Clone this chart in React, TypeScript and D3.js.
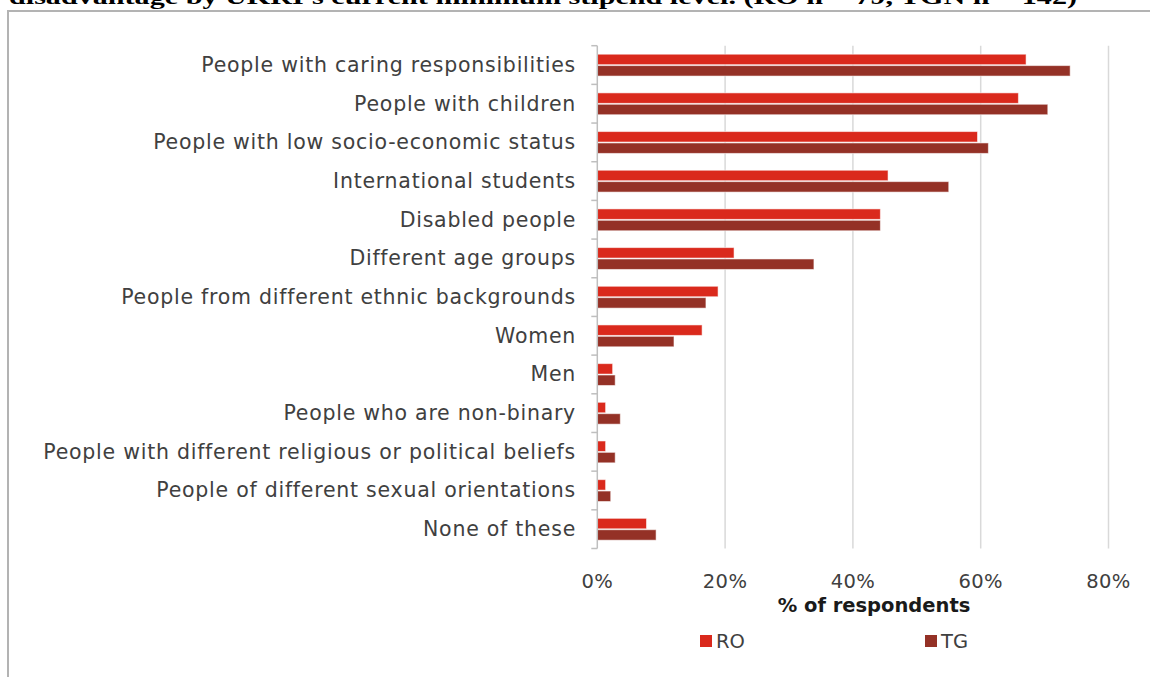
import React from "react";
import * as d3 from "d3";

const categories = [
  "People with caring responsibilities",
  "People with children",
  "People with low socio-economic status",
  "International students",
  "Disabled people",
  "Different age groups",
  "People from different ethnic backgrounds",
  "Women",
  "Men",
  "People who are non-binary",
  "People with different religious or political beliefs",
  "People of different sexual orientations",
  "None of these",
];
const seriesNames = ["RO", "TG"];
const roValues = [67.1, 65.9, 59.5, 45.5, 44.3, 21.4, 18.9, 16.4, 2.4, 1.3, 1.3, 1.3, 7.7];
const tgValues = [74.0, 70.5, 61.2, 55.0, 44.3, 33.9, 17.0, 12.0, 2.8, 3.6, 2.8, 2.1, 9.2];
const xTicks = [0, 20, 40, 60, 80];
const colors = ["#DA291C", "#943126"];
const title = "disadvantage by UKRI's current minimum stipend level. (RO n = 79, TGN n = 142)";

const W = 1150;
const H = 677;
const labelFont = "'DejaVu Sans', 'Open Sans', sans-serif";

export default function App() {
  const x = d3.scaleLinear().domain([0, 80]).range([597.3, 1108.5]);
  const y = d3.scaleBand<string>().domain(categories).range([45.7, 548.5]).padding(0);
  const bw = y.bandwidth();
  const inner = d3
    .scaleBand<string>()
    .domain(seriesNames)
    .range([bw * 0.22, bw * 0.785])
    .paddingInner(0.08);
  const values = [roValues, tgValues];
  const boundaries = d3.range(categories.length + 1).map((i) => 45.7 + i * bw);
  const [y0, y1] = y.range();

  return (
    <svg
      width={W}
      height={H}
      style={{ position: "absolute", left: 0, top: 0, display: "block", background: "#fff" }}
    >
      <text
        x={9}
        y={4}
        fontFamily="'Liberation Serif', 'DejaVu Serif', serif"
        fontWeight="bold"
        fontSize={22}
        fill="#000"
        textLength={1068}
        lengthAdjust="spacingAndGlyphs"
      >
        {title}
      </text>
      <rect x={8} y={11} width={W + 20} height={H + 20} fill="none" stroke="#b3b3b3" strokeWidth={2} />

      {/* gridlines */}
      {xTicks.slice(1).map((t) => (
        <line key={t} x1={x(t)} x2={x(t)} y1={y0} y2={y1} stroke="#d9d9d9" strokeWidth={1.5} />
      ))}

      {/* bars */}
      {categories.map((c, i) => (
        <g key={c} transform={`translate(0,${y(c)})`}>
          {seriesNames.map((s, j) => (
            <rect
              key={s}
              x={x(0)}
              y={inner(s)}
              width={x(values[j][i]) - x(0)}
              height={inner.bandwidth()}
              fill={colors[j]}
              stroke="#ffffff"
              strokeOpacity={0.55}
              strokeWidth={1}
            />
          ))}
        </g>
      ))}

      {/* y axis */}
      <line x1={x(0)} x2={x(0)} y1={y0} y2={y1} stroke="#bfbfbf" strokeWidth={1.5} />
      {boundaries.map((b, i) => (
        <line key={i} x1={x(0) - 6} x2={x(0)} y1={b} y2={b} stroke="#bfbfbf" strokeWidth={1.5} />
      ))}

      {/* category labels */}
      {categories.map((c) => (
        <text
          key={c}
          x={576}
          y={(y(c) as number) + bw / 2}
          textAnchor="end"
          dominantBaseline="central"
          fontFamily={labelFont}
          fontSize={20.5}
          letterSpacing={0.75}
          fill="#404040"
        >
          {c}
        </text>
      ))}

      {/* x tick labels */}
      {xTicks.map((t) => (
        <text
          key={t}
          x={x(t)}
          y={581}
          textAnchor="middle"
          dominantBaseline="central"
          fontFamily={labelFont}
          fontSize={19.5}
          letterSpacing={0.4}
          fill="#404040"
        >
          {`${t}%`}
        </text>
      ))}

      <text
        x={874}
        y={605}
        textAnchor="middle"
        dominantBaseline="central"
        fontFamily={labelFont}
        fontWeight="bold"
        fontSize={19.5}
        fill="#1a1a1a"
      >
        % of respondents
      </text>

      {/* legend */}
      {seriesNames.map((s, j) => {
        const lx = j === 0 ? 700 : 925;
        return (
          <g key={s}>
            <rect x={lx} y={635} width={12} height={12} fill={colors[j]} />
            <text
              x={lx + 16}
              y={641}
              dominantBaseline="central"
              fontFamily={labelFont}
              fontSize={19.5}
              fill="#404040"
            >
              {s}
            </text>
          </g>
        );
      })}
    </svg>
  );
}
